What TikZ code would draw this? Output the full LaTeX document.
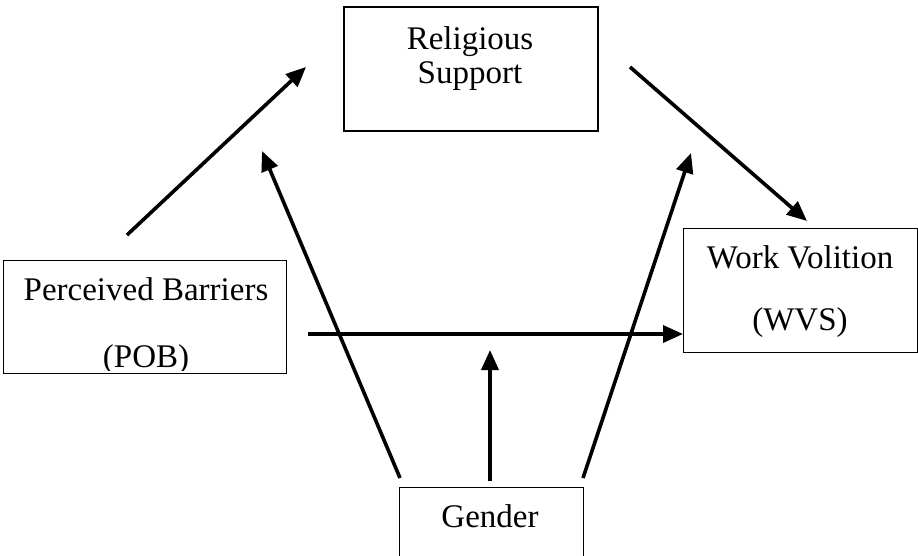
\documentclass[tikz,border=0pt]{standalone}
\usepackage{fontspec}
\setmainfont{Liberation Serif}
\usetikzlibrary{arrows.meta}
\begin{document}
\begin{tikzpicture}[x=1pt,y=-1pt,
  box/.style={draw,line width=1.3pt,inner sep=0pt,anchor=north west},
  lbl/.style={font=\fontsize{33}{33}\selectfont,inner sep=0pt,anchor=base},
  arr/.style={line width=3.6pt,-{Triangle[length=20pt,width=17pt]}}]
\useasboundingbox (0,0) rectangle (918,556);
% boxes
\node[box,line width=2pt,minimum width=254pt,minimum height=124pt] (rs) at (343,6) {};
\node[box,minimum width=283pt,minimum height=113pt] (pob) at (3,260) {};
\node[box,minimum width=234pt,minimum height=124pt] (wvs) at (683,228) {};
\node[box,minimum width=184pt,minimum height=100pt] (gen) at (399,487) {};
% labels
\node[lbl] (rs1) at (470,50) {Religious};
\node[lbl] (rs2) at (470,84) {Support};
\node[lbl] (pob1) at (146,300) {Perceived Barriers};
\begin{scope}
\clip (3,260) rectangle (286,370);
\node[lbl] (pob2) at (146,367) {(POB)};
\end{scope}
\node[lbl] (wvs1) at (800,268) {Work Volition};
\node[lbl] (wvs2) at (800,330) {(WVS)};
\node[lbl] (gen1) at (490,527) {Gender};
% connector end points
\coordinate (a1s) at (127,235);
\coordinate (a1e) at (306,67);
\coordinate (a2s) at (630,67);
\coordinate (a2e) at (807,221);
\coordinate (a3s) at (308,334);
\coordinate (a3e) at (683,334);
\coordinate (a4s) at (400,478);
\coordinate (a4e) at (262,151);
\coordinate (a5s) at (490,481);
\coordinate (a5e) at (490,350);
\coordinate (a6s) at (583,478);
\coordinate (a6e) at (691,153);
% arrows
\draw[arr] (a1s) -- (a1e);
\draw[arr] (a2s) -- (a2e);
\draw[arr] (a3s) -- (a3e);
\draw[arr] (a4s) -- (a4e);
\draw[arr] (a5s) -- (a5e);
\draw[arr] (a6s) -- (a6e);
\end{tikzpicture}
\end{document}
